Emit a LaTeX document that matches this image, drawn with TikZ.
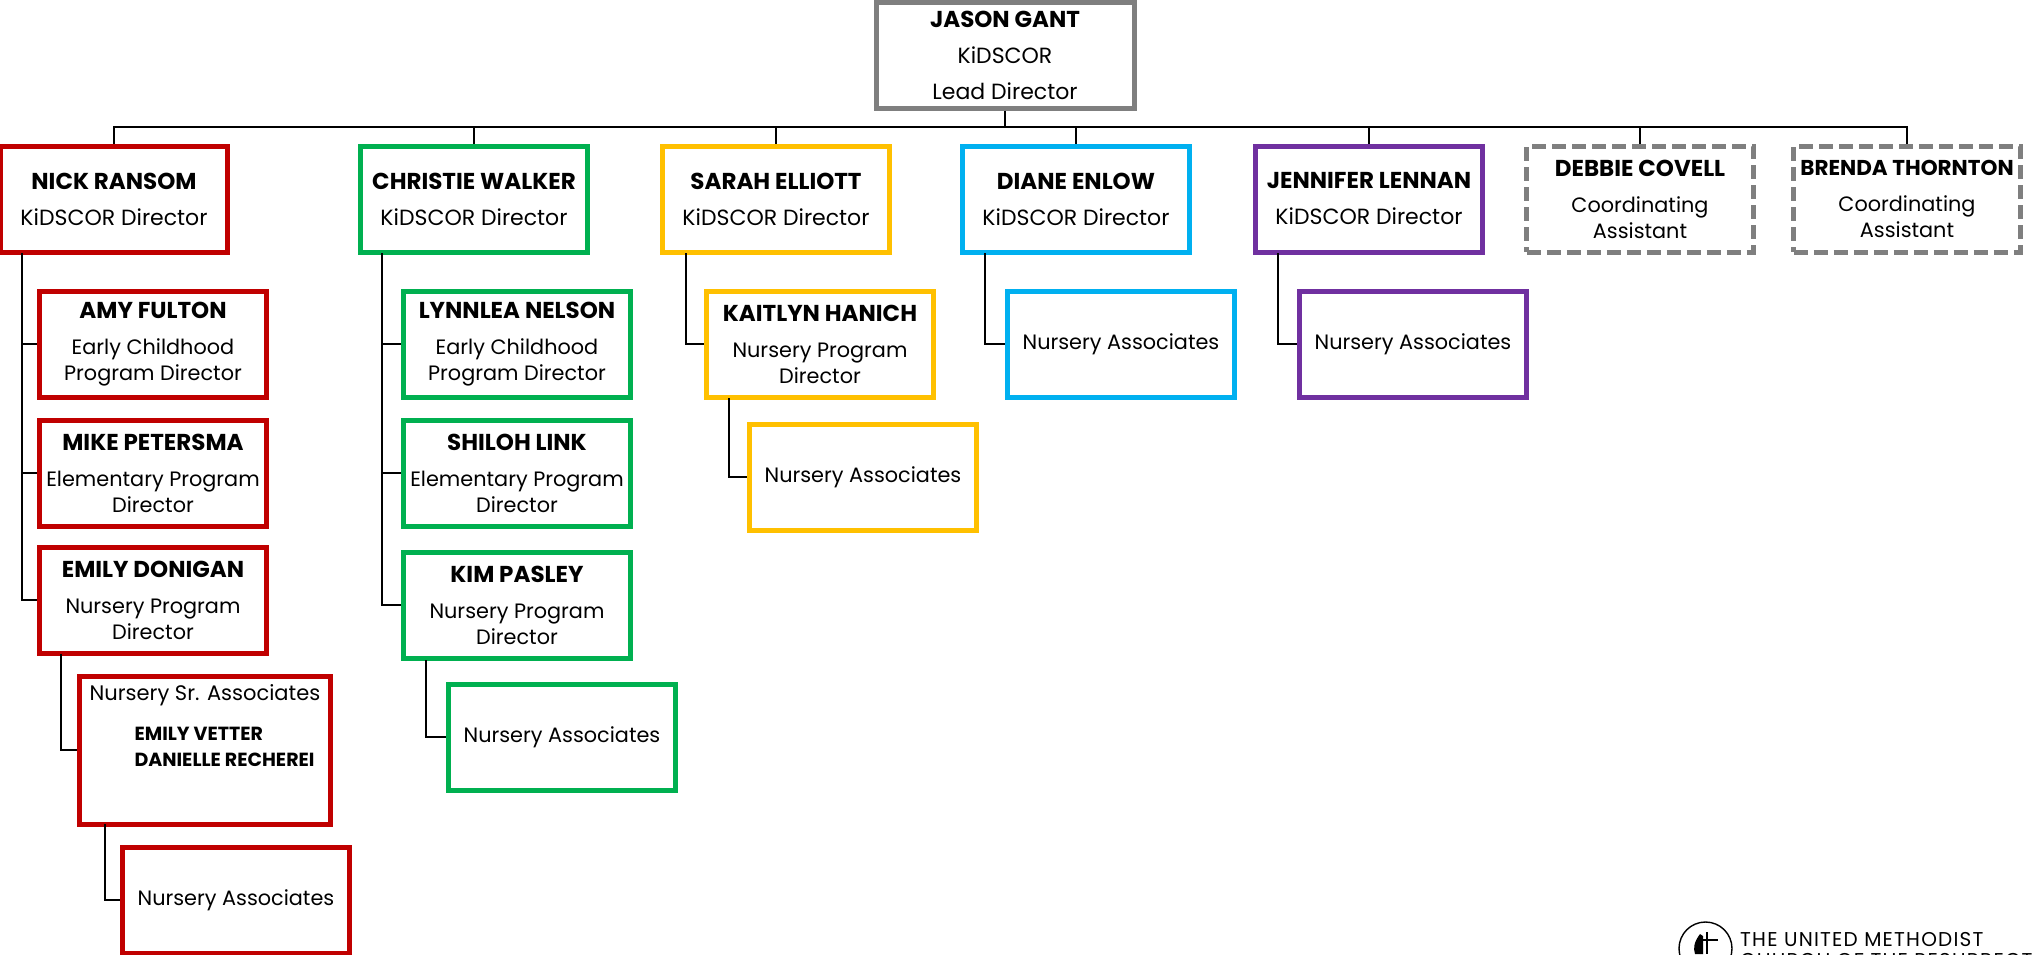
\documentclass[tikz,border=0pt]{standalone}
\usepackage{fontspec}
\setmainfont{Poppins}
\usetikzlibrary{arrows}
\usetikzlibrary{arrows.meta}
\definecolor{redline}{HTML}{C00000}
\definecolor{greenline}{HTML}{00B050}
\definecolor{goldline}{HTML}{FFC000}
\definecolor{blueline}{HTML}{00B0F0}
\definecolor{purpleline}{HTML}{7030A0}
\definecolor{grayline}{HTML}{7F7F7F}
\newcommand{\who}[1]{{\fontsize{23}{26}\selectfont\bfseries #1}}
\tikzset{
	orgbox/.style={draw,line width=5pt,fill=white,align=center,minimum width=226.5pt,minimum height=106pt,inner sep=0pt,font=\fontsize{20.8}{26}\selectfont},
	bigtext/.style={font=\fontsize{22}{26}\selectfont},
	redbox/.style={orgbox,draw=redline},
	greenbox/.style={orgbox,draw=greenline},
	goldbox/.style={orgbox,draw=goldline},
	bluebox/.style={orgbox,draw=blueline},
	purplebox/.style={orgbox,draw=purpleline},
	graybox/.style={orgbox,draw=grayline},
	dashbox/.style={graybox,dash pattern=on 14pt off 6pt},
	wire/.style={line width=2.8pt,black}
}
\begin{document}
\begin{tikzpicture}[x=1pt,y=-1pt]
\useasboundingbox (0,0) rectangle (2032,954);
\clip (0,0) rectangle (2032,954);
% top row
\node[graybox,bigtext,minimum width=258pt] (jason) at (1005,55) {\who{JASON GANT}\\[10pt]KiDSCOR\\[10pt]Lead Director};
\node[redbox,bigtext] (nick) at (114,199) {\who{NICK RANSOM}\\[10pt]KiDSCOR Director};
\node[greenbox,bigtext] (christie) at (474,199) {\who{CHRISTIE WALKER}\\[10pt]KiDSCOR Director};
\node[goldbox,bigtext] (sarah) at (776,199) {\who{SARAH ELLIOTT}\\[10pt]KiDSCOR Director};
\node[bluebox,bigtext] (diane) at (1076,199) {\who{DIANE ENLOW}\\[10pt]KiDSCOR Director};
\node[purplebox,bigtext] (jennifer) at (1369,199) {\who{JENNIFER LENNAN}\\[10pt]KiDSCOR Director};
\node[dashbox] (debbie) at (1640,199) {\who{DEBBIE COVELL}\\[10pt]Coordinating\\Assistant};
\node[dashbox] (brenda) at (1907,199) {{\fontsize{21.5}{26}\selectfont\bfseries BRENDA THORNTON}\\[10pt]Coordinating\\Assistant};
% red column
\node[redbox] (amy) at (153,344) {\who{AMY FULTON}\\[10pt]Early Childhood\\Program Director};
\node[redbox] (mike) at (153,473) {\who{MIKE PETERSMA}\\[10pt]Elementary Program\\Director};
\node[redbox] (emily) at (153,600) {\who{EMILY DONIGAN}\\[10pt]Nursery Program\\Director};
\node[redbox,minimum width=250.5pt,minimum height=148pt] (senior) at (205,750) {};
\node[font=\fontsize{21}{26}\selectfont] (seniortitle) at (205,695) {Nursery Sr. Associates};
\node[font=\fontsize{19}{26}\selectfont\bfseries,align=left,anchor=west] (seniornames) at (131,747) {EMILY VETTER\\DANIELLE RECHEREI};
\node[redbox] (redstaff) at (236,900) {Nursery Associates};
% green column
\node[greenbox] (lynnlea) at (517,344) {\who{LYNNLEA NELSON}\\[10pt]Early Childhood\\Program Director};
\node[greenbox] (shiloh) at (517,473) {\who{SHILOH LINK}\\[10pt]Elementary Program\\Director};
\node[greenbox] (kim) at (517,605) {\who{KIM PASLEY}\\[10pt]Nursery Program\\Director};
\node[greenbox] (greenstaff) at (562,737) {Nursery Associates};
% the others
\node[goldbox] (kaitlyn) at (820,344) {\who{KAITLYN HANICH}\\[10pt]Nursery Program\\Director};
\node[goldbox] (goldstaff) at (863,477) {Nursery Associates};
\node[bluebox] (bluestaff) at (1121,344) {Nursery Associates};
\node[purplebox] (purplestaff) at (1413,344) {Nursery Associates};
% wires
\draw[wire] (jason.south) -- (1005,127) coordinate (bus);
\foreach \boss in {nick,christie,sarah,diane,jennifer,debbie,brenda}
{
	\draw[wire] (bus) -| (\boss.north);
}
\foreach \staff in {amy,mike,emily}
{
	\draw[wire] (22,253) coordinate (nicktrunk) |- (\staff.west);
}
\foreach \staff in {lynnlea,shiloh,kim}
{
	\draw[wire] (382,253) coordinate (christietrunk) |- (\staff.west);
}
\draw[wire] (61,654) coordinate (emilytrunk) |- (senior.west);
\draw[wire] (105,824) coordinate (seniortrunk) |- (redstaff.west);
\draw[wire] (426,660) coordinate (kimtrunk) |- (greenstaff.west);
\draw[wire] (686,253) coordinate (sarahtrunk) |- (kaitlyn.west);
\draw[wire] (729,398) coordinate (kaitlyntrunk) |- (goldstaff.west);
\draw[wire] (985,253) coordinate (dianetrunk) |- (bluestaff.west);
\draw[wire] (1278,253) coordinate (jennifertrunk) |- (purplestaff.west);
% logo
\draw[line width=1.4pt] (1705.5,948.5) circle (26.5);
\draw[line width=1.6pt] (1707,932) -- (1707,954);
\draw[line width=1.6pt] (1697,940) -- (1718,940);
\fill (1700,934) .. controls (1694,942) and (1693,948) .. (1695,954) -- (1703,954) -- (1703,936) -- cycle;
\node[anchor=base west,inner sep=0pt,font=\fontsize{20}{22}\selectfont\addfontfeature{LetterSpace=6}] (logotop) at (1740,946) {THE UNITED METHODIST};
\node[anchor=base west,inner sep=0pt,font=\fontsize{20}{22}\selectfont\addfontfeature{LetterSpace=6}] (logobottom) at (1740,967) {CHURCH OF THE RESURRECTION};
\end{tikzpicture}
\end{document}
